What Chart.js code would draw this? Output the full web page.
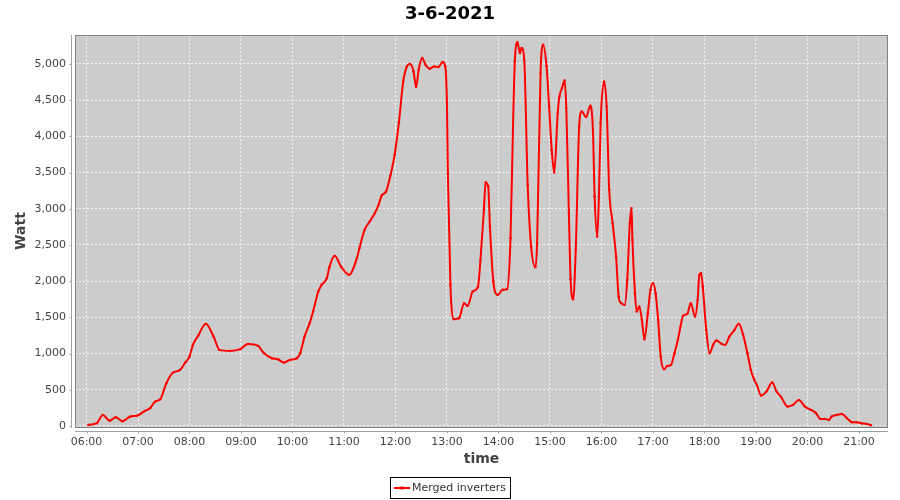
<!DOCTYPE html>
<html>
<head>
<meta charset="utf-8">
<script src="https://cdn.jsdelivr.net/npm/chart.js@4/dist/chart.umd.min.js"></script>
<style>
  html, body { margin: 0; padding: 0; background: #ffffff; }
  #wrap { width: 900px; height: 500px; }
</style>
</head>
<body>
<div id="wrap"><canvas id="c" width="900" height="500"></canvas></div>
<script>
// ---- data ----
const chartTitle = '3-6-2021';
const seriesName = 'Merged inverters';
const xTitle = 'time';
const yTitle = 'Watt';

const times = ['06:02','06:12','06:19','06:27','06:34','06:42','06:51','06:59','07:08','07:14','07:20','07:26','07:33','07:41','07:49','07:55','08:00','08:04','08:10','08:19','08:28','08:35','08:47','08:59','09:08','09:20','09:26','09:36','09:43','09:50','09:57','10:05','10:09','10:14','10:20','10:24','10:30','10:34','10:40','10:43','10:49','10:57','11:06','11:15','11:18','11:24','11:30','11:36','11:40','11:44','11:49','11:54','11:59','12:04','12:09','12:13','12:17','12:21','12:24','12:27','12:31','12:35','12:40','12:45','12:50','12:55','12:58','13:00','13:01','13:04','13:08','13:14','13:20','13:24','13:30','13:36','13:39','13:43','13:45','13:48','13:50','13:54','13:59','14:05','14:10','14:14','14:17','14:19','14:22','14:25','14:27','14:30','14:34','14:38','14:43','14:45','14:49','14:52','14:56','14:59','15:02','15:05','15:09','15:11','15:14','15:17','15:19','15:22','15:24','15:27','15:30','15:34','15:37','15:42','15:47','15:50','15:52','15:55','15:57','15:59','16:03','16:06','16:09','16:13','16:17','16:20','16:23','16:27','16:30','16:33','16:35','16:36','16:39','16:41','16:44','16:47','16:50','16:54','16:57','17:00','17:03','17:06','17:09','17:13','17:17','17:21','17:25','17:29','17:32','17:35','17:40','17:44','17:49','17:52','17:54','17:56','17:58','18:02','18:06','18:10','18:14','18:20','18:24','18:29','18:35','18:40','18:45','18:50','18:54','18:58','19:01','19:06','19:12','19:19','19:24','19:29','19:37','19:43','19:50','19:57','20:04','20:10','20:15','20:20','20:25','20:28','20:34','20:40','20:46','20:52','20:57','21:03','21:09','21:14'];

const watts = [15,37,152,73,120,65,129,142,207,244,336,369,590,737,774,875,958,1119,1244,1410,1234,1050,1036,1060,1133,1105,1013,935,921,875,912,935,1005,1234,1419,1580,1856,1949,2041,2193,2349,2193,2087,2318,2456,2709,2824,2940,3045,3183,3238,3455,3745,4192,4758,4957,4999,4897,4681,4920,5082,4989,4934,4966,4957,5026,4966,4413,3492,1949,1475,1488,1696,1658,1856,1917,2294,2985,3362,3307,2754,1994,1810,1880,1889,2594,4183,5035,5300,5150,5220,5058,3331,2478,2193,2525,4874,5265,4966,4413,3814,3501,4321,4551,4667,4772,4390,2940,2027,1751,2432,4136,4344,4266,4422,4091,3169,2616,3169,4183,4758,4413,3262,2801,2340,1787,1696,1672,2018,2801,3009,2571,1834,1580,1649,1465,1198,1557,1880,1972,1834,1465,958,784,829,843,1005,1189,1372,1520,1548,1696,1511,1741,2087,2110,1925,1327,1005,1119,1179,1133,1119,1234,1327,1410,1258,1005,774,636,567,419,474,599,474,405,267,290,359,267,221,175,97,97,83,129,152,166,106,51,51,37,28,10];

const xTickLabels = ['06:00','07:00','08:00','09:00','10:00','11:00','12:00','13:00','14:00','15:00','16:00','17:00','18:00','19:00','20:00','21:00'];
const yTickValues = [0,500,1000,1500,2000,2500,3000,3500,4000,4500,5000];

// ---- helpers ----
const toMin = s => { const p = s.split(':'); return (+p[0]) * 60 + (+p[1]); };
const fmtMin = m => { const h = Math.floor(m / 60), mm = Math.round(m % 60); return String(h).padStart(2,'0') + ':' + String(mm).padStart(2,'0'); };
const points = times.map((t, i) => ({ x: toMin(t), y: watts[i] }));
const xTickValues = xTickLabels.map(toMin);

const FONT = "'DejaVu Sans', sans-serif";

const decor = {
  id: 'decor',
  beforeDraw(chart) {
    const { ctx, chartArea: a } = chart;
    ctx.save();
    ctx.fillStyle = '#cccccc';
    ctx.fillRect(a.left, a.top, a.right - a.left, a.bottom - a.top);
    ctx.restore();
  },
  afterDraw(chart) {
    const { ctx, chartArea: a, scales } = chart;
    ctx.save();
    // plot outline
    ctx.strokeStyle = '#808080';
    ctx.lineWidth = 1;
    ctx.strokeRect(a.left + 0.5, a.top + 0.5, a.right - a.left - 1, a.bottom - a.top);
    // offset axis lines + tick marks
    ctx.strokeStyle = '#a0a0a0';
    const axX = a.left - 3.5;
    ctx.beginPath();
    ctx.moveTo(axX, a.top); ctx.lineTo(axX, a.bottom + 1);
    yTickValues.forEach(v => {
      const y = Math.round(scales.y.getPixelForValue(v)) + 0.5;
      ctx.moveTo(axX, y); ctx.lineTo(axX - 2, y);
    });
    const axY = a.bottom + 4.5;
    ctx.moveTo(a.left, axY); ctx.lineTo(a.right, axY);
    xTickValues.forEach(v => {
      const x = Math.round(scales.x.getPixelForValue(v)) + 0.5;
      ctx.moveTo(x, axY); ctx.lineTo(x, axY + 2);
    });
    ctx.stroke();

    // title
    ctx.fillStyle = '#000000';
    ctx.textAlign = 'center';
    ctx.textBaseline = 'middle';
    ctx.font = "bold 18px " + FONT;
    ctx.fillText(chartTitle, 450, 14);

    // axis titles
    ctx.fillStyle = '#444444';
    ctx.font = "bold 14px " + FONT;
    ctx.fillText(xTitle, (a.left + a.right) / 2, 459);
    ctx.save();
    ctx.translate(21, (a.top + a.bottom) / 2);
    ctx.rotate(-Math.PI / 2);
    ctx.fillText(yTitle, 0, 0);
    ctx.restore();

    // legend
    ctx.font = "11px " + FONT;
    const tw = ctx.measureText(seriesName).width;
    const boxW = tw + 26, boxH = 21;
    const bx = Math.round(450 - boxW / 2) + 0.5, by = 477.5;
    ctx.strokeStyle = '#000000';
    ctx.lineWidth = 1;
    ctx.strokeRect(bx, by, boxW, boxH);
    ctx.strokeStyle = '#ff0000';
    ctx.lineWidth = 2;
    ctx.beginPath();
    ctx.moveTo(bx + 3.5, by + 10.5); ctx.lineTo(bx + 19.5, by + 10.5);
    ctx.stroke();
    ctx.fillStyle = '#ff0000';
    ctx.fillRect(bx + 10, by + 9, 3, 3);
    ctx.fillStyle = '#333333';
    ctx.textAlign = 'left';
    ctx.fillText(seriesName, bx + 21.5, by + 11);
    ctx.restore();
  }
};

new Chart(document.getElementById('c'), {
  type: 'line',
  data: {
    datasets: [{
      label: seriesName,
      data: points,
      borderColor: '#ff0000',
      backgroundColor: '#ff0000',
      borderWidth: 2,
      pointRadius: 1.2,
      pointBorderWidth: 0,
      pointBackgroundColor: '#ff0000',
      cubicInterpolationMode: 'monotone',
      fill: false
    }]
  },
  options: {
    responsive: false,
    devicePixelRatio: 1,
    animation: false,
    events: [],
    layout: { padding: { top: 35, right: 12, bottom: 0, left: 0 } },
    plugins: { legend: { display: false }, title: { display: false }, tooltip: { enabled: false } },
    scales: {
      x: {
        type: 'linear',
        min: 346.6,
        max: 1293.8,
        afterFit(s) { s.height = 73; },
        afterBuildTicks(s) { s.ticks = xTickValues.map(v => ({ value: v })); },
        border: { display: false, dash: [2, 2] },
        grid: { color: '#f4f4f4', lineWidth: 1, drawTicks: false },
        ticks: {
          padding: 9,
          color: '#444444',
          font: { family: FONT, size: 11 },
          maxRotation: 0,
          autoSkip: false,
          callback: v => fmtMin(v)
        }
      },
      y: {
        type: 'linear',
        min: -15,
        max: 5400,
        afterFit(s) { s.width = 75; },
        afterBuildTicks(s) { s.ticks = yTickValues.map(v => ({ value: v })); },
        border: { display: false, dash: [2, 2] },
        grid: { color: '#f4f4f4', lineWidth: 1, drawTicks: false },
        ticks: {
          padding: 9,
          color: '#444444',
          font: { family: FONT, size: 11 },
          callback: v => v.toLocaleString('en-US')
        }
      }
    }
  },
  plugins: [decor]
});
</script>
</body>
</html>
